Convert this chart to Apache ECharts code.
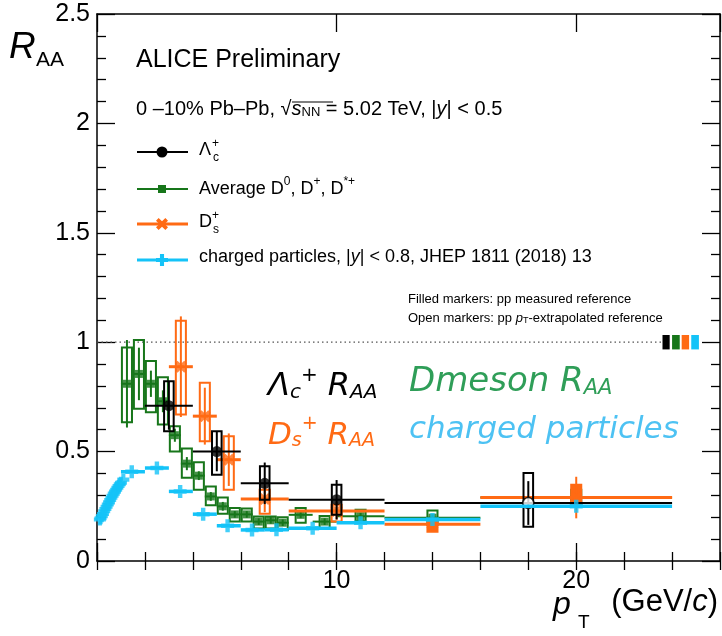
<!DOCTYPE html>
<html>
<head>
<meta charset="utf-8">
<script src="https://cdn.jsdelivr.net/npm/echarts@6/dist/echarts.min.js"></script>
<style>
html,body{margin:0;padding:0;background:#fff}
#c{width:722px;height:636px}
</style>
</head>
<body>
<div id="c"></div>
<script>
// ---------- Λc+ RAA, 0-10% Pb-Pb ----------
const lcBinLo = [2, 4, 6, 8, 12];
const lcBinHi = [4, 6, 8, 12, 24];
const lcPt    = [3, 5, 7, 10, 18];
const lcRaa   = [0.71, 0.50, 0.355, 0.28, 0.265];
const lcStat  = [0.11, 0.09, 0.095, 0.09, 0.10];
const lcSysLo = [0.593, 0.394, 0.28, 0.211, 0.157];
const lcSysHi = [0.822, 0.593, 0.433, 0.349, 0.402];
const lcOpen  = [false, false, false, false, true];

// ---------- average D0, D+, D*+ ----------
const dBinLo = [1, 1.5, 2, 2.5, 3, 3.5, 4, 4.5, 5, 5.5, 6, 6.5, 7, 7.5, 8, 9, 10, 12, 16];
const dBinHi = [1.5, 2, 2.5, 3, 3.5, 4, 4.5, 5, 5.5, 6, 6.5, 7, 7.5, 8, 9, 10, 12, 16, 24];
const dPt    = [1.25, 1.75, 2.25, 2.75, 3.25, 3.75, 4.25, 4.75, 5.25, 5.75, 6.25, 6.75, 7.25, 7.75, 8.5, 9.5, 11, 14, 20];
const dRaa   = [0.81, 0.855, 0.81, 0.73, 0.575, 0.445, 0.39, 0.295, 0.25, 0.213, 0.213, 0.18, 0.186, 0.175, 0.211, 0.18, 0.205, 0.198, 0.29];
const dStat  = [0.2, 0.12, 0.06, 0.05, 0.03, 0.03, 0.02, 0.02, 0.02, 0.015, 0.015, 0.015, 0.015, 0.015, 0.015, 0.015, 0.015, 0.015, 0.03];
const dSysLo = [0.634, 0.696, 0.68, 0.624, 0.5, 0.38, 0.326, 0.255, 0.216, 0.18, 0.18, 0.148, 0.148, 0.142, 0.175, 0.15, 0.183, 0.165, 0.255];
const dSysHi = [0.976, 1.01, 0.914, 0.84, 0.616, 0.514, 0.451, 0.341, 0.29, 0.242, 0.24, 0.203, 0.203, 0.2, 0.242, 0.206, 0.234, 0.231, 0.326];

// ---------- Ds+ ----------
const dsBinLo = [3, 4, 5, 6, 8, 12, 16];
const dsBinHi = [4, 5, 6, 8, 12, 16, 24];
const dsPt    = [3.5, 4.5, 5.5, 7, 10, 14, 20];
const dsRaa   = [0.888, 0.662, 0.463, 0.283, 0.229, 0.168, 0.29];
const dsStat  = [0.23, 0.13, 0.12, 0.06, 0.04, 0.03, 0.095];
const dsSysLo = [0.67, 0.547, 0.326, 0.216, 0.18, 0.134, 0.258];
const dsSysHi = [1.098, 0.815, 0.57, 0.326, 0.257, 0.188, 0.349];
const dsFilled = [false, false, false, false, false, true, true];

// ---------- charged particles, |y| < 0.8 ----------
const chLowPt  = [0.12, 0.15, 0.2, 0.25, 0.3, 0.35, 0.4, 0.45, 0.5, 0.55, 0.6, 0.65, 0.7, 0.75, 0.8, 0.85, 0.9, 0.95, 1.0, 1.1];
const chLowRaa = [0.19, 0.195, 0.205, 0.215, 0.227, 0.238, 0.248, 0.258, 0.268, 0.279, 0.289, 0.298, 0.308, 0.317, 0.326, 0.335, 0.343, 0.351, 0.358, 0.372];
const chBinLo = [1, 2, 3, 4, 5, 6, 7, 8, 10, 12, 16];
const chBinHi = [2, 3, 4, 5, 6, 7, 8, 10, 12, 16, 24];
const chPt    = [1.45, 2.5, 3.47, 4.43, 5.45, 6.47, 7.49, 9, 11, 14, 20];
const chRaa   = [0.408, 0.425, 0.318, 0.214, 0.161, 0.142, 0.143, 0.15, 0.175, 0.19, 0.25];

// ---------- global normalisation uncertainties at RAA = 1 ----------
const normPtLo = [23.6, 24.0, 24.4, 24.8];
const normPtHi = [23.9, 24.32, 24.71, 25.12];
const normHalf = [0.033, 0.033, 0.033, 0.033];

// ---------- axes ----------
const xMin = 0, xMax = 26, xMajor = 10, xMinor = 2;
const yMin = 0, yMax = 2.5, yMajor = 0.5;
const xTickLabels = ['10', '20'];
const unityPt = [0, 23.55];

const FONT = '"Liberation Sans", Arial, Helvetica, sans-serif';
const HAND = '"DejaVu Sans", "Noto Sans", sans-serif';
const BLACK = '#000000', GREEN = '#17761a', ORANGE = '#ff6a14', CYAN = '#14c3f8';

function rows(pt, val, lo, hi, statLo, statHi, sysLo, sysHi, fill) {
  return pt.map((p, i) => [p, val[i], lo[i], hi[i], statLo[i], statHi[i],
    sysLo ? sysLo[i] : val[i], sysHi ? sysHi[i] : val[i], fill && fill[i] ? 1 : 0]);
}

// error bars (bin width + statistical) and systematic boxes
function errSeries(data, color, opts) {
  return {
    type: 'custom', z: opts.z, silent: true, animation: false,
    data: data,
    renderItem: function (params, api) {
      const pt = api.value(0), v = api.value(1);
      const c = api.coord([pt, v]);
      const l = api.coord([api.value(2), v]);
      const r = api.coord([api.value(3), v]);
      const sb = api.coord([pt, api.value(4)]);
      const st = api.coord([pt, api.value(5)]);
      const yb = api.coord([pt, api.value(6)])[1];
      const yt = api.coord([pt, api.value(7)])[1];
      const hw = Math.abs(api.coord([pt + opts.boxHalf, v])[0] - c[0]);
      const ch = [];
      if (Math.abs(yb - yt) > 0.5) {
        const filled = api.value(8) === 1;
        ch.push({
          type: 'rect', z2: 1,
          shape: { x: c[0] - hw, y: yt, width: hw * 2, height: yb - yt },
          style: { fill: filled ? color : 'rgba(255,255,255,0)', stroke: color, lineWidth: opts.boxLw }
        });
      }
      ch.push({ type: 'line', z2: 2, shape: { x1: l[0], y1: c[1], x2: r[0], y2: c[1] },
        style: { stroke: color, lineWidth: opts.hLw } });
      ch.push({ type: 'line', z2: 2, shape: { x1: c[0], y1: sb[1], x2: c[0], y2: st[1] },
        style: { stroke: color, lineWidth: opts.vLw } });
      return { type: 'group', children: ch };
    }
  };
}

const lcRows = rows(lcPt, lcRaa, lcBinLo, lcBinHi,
  lcRaa.map((v, i) => v - lcStat[i]), lcRaa.map((v, i) => v + lcStat[i]), lcSysLo, lcSysHi, null);
const dRows = rows(dPt, dRaa, dBinLo, dBinHi,
  dRaa.map((v, i) => v - dStat[i]), dRaa.map((v, i) => v + dStat[i]), dSysLo, dSysHi, null);
const dsRows = rows(dsPt, dsRaa, dsBinLo, dsBinHi,
  dsRaa.map((v, i) => v - dsStat[i]), dsRaa.map((v, i) => v + dsStat[i]), dsSysLo, dsSysHi, dsFilled);
const chRows = rows(chPt, chRaa, chBinLo, chBinHi, chRaa, chRaa, null, null, null);

const X_PATH = 'path://M0,2.2 L2.2,0 L5,2.8 L7.8,0 L10,2.2 L7.2,5 L10,7.8 L7.8,10 L5,7.2 L2.2,10 L0,7.8 L2.8,5 Z';
const PLUS_PATH = 'path://M3.3,0 H6.7 V3.3 H10 V6.7 H6.7 V10 H3.3 V6.7 H0 V3.3 H3.3 Z';

const series = [
  // dotted line at unity
  {
    type: 'custom', z: 1, silent: true, animation: false,
    data: [[unityPt[0], 1, unityPt[1]]],
    renderItem: function (p, api) {
      const a = api.coord([api.value(0), api.value(1)]);
      const b = api.coord([api.value(2), api.value(1)]);
      return { type: 'line', shape: { x1: a[0], y1: a[1], x2: b[0], y2: b[1] },
        style: { stroke: '#555', lineWidth: 1.2, lineDash: [1.5, 3] } };
    }
  },
  // normalisation boxes
  {
    type: 'custom', z: 1, silent: true, animation: false,
    data: normPtLo.map((lo, i) => [lo, normPtHi[i], 1 - normHalf[i], 1 + normHalf[i], i]),
    renderItem: function (p, api) {
      const a = api.coord([api.value(0), api.value(3)]);
      const b = api.coord([api.value(1), api.value(2)]);
      const cols = [BLACK, GREEN, ORANGE, CYAN];
      return { type: 'rect', shape: { x: a[0], y: a[1], width: b[0] - a[0], height: b[1] - a[1] },
        style: { fill: cols[api.value(4)] } };
    }
  },
  errSeries(dRows, GREEN, { z: 2, boxHalf: 0.21, boxLw: 2, hLw: 2, vLw: 2 }),
  {
    type: 'scatter', z: 3, silent: true, animation: false,
    symbol: 'rect', symbolSize: 8, itemStyle: { color: GREEN },
    data: dPt.map((p, i) => [p, dRaa[i]])
  },
  errSeries(dsRows, ORANGE, { z: 4, boxHalf: 0.21, boxLw: 2, hLw: 3, vLw: 2 }),
  {
    type: 'scatter', z: 5, silent: true, animation: false,
    symbol: X_PATH, symbolSize: 12, itemStyle: { color: ORANGE },
    data: dsPt.map((p, i) => [p, dsRaa[i]])
  },
  errSeries(lcRows, BLACK, { z: 6, boxHalf: 0.2, boxLw: 2, hLw: 2, vLw: 2 }),
  {
    type: 'scatter', z: 7, silent: true, animation: false,
    symbol: 'circle', symbolSize: 11,
    data: lcPt.map((p, i) => ({
      value: [p, lcRaa[i]],
      itemStyle: lcOpen[i] ? { color: '#fff', borderColor: BLACK, borderWidth: 1.5 } : { color: BLACK }
    }))
  },
  errSeries(chRows, CYAN, { z: 8, boxHalf: 0.2, boxLw: 2, hLw: 3.5, vLw: 3 }),
  {
    type: 'scatter', z: 9, silent: true, animation: false,
    symbol: PLUS_PATH, symbolSize: 13, itemStyle: { color: CYAN },
    data: chPt.map((p, i) => [p, chRaa[i]])
  },
  {
    type: 'scatter', z: 9, silent: true, animation: false,
    symbol: PLUS_PATH, symbolSize: 12, itemStyle: { color: CYAN },
    data: chLowPt.map((p, i) => [p, chLowRaa[i]])
  }
];

const axLine = { show: true, onZero: false, lineStyle: { color: '#000', width: 1.5 } };
const tickMaj = { show: true, inside: true, length: 18, lineStyle: { color: '#000', width: 1.3 } };
const tickMin = { show: true, inside: true, length: 9, lineStyle: { color: '#000', width: 1.3 } };
const noLabel = { show: false };
const noSplit = { show: false };

const xAxes = [
  { type: 'value', min: xMin, max: xMax, interval: xMajor, position: 'bottom', axisLine: axLine, axisTick: tickMaj,
    axisLabel: { fontSize: 25, color: '#000', fontFamily: FONT, margin: 8, showMaxLabel: false,
      formatter: v => xTickLabels.indexOf(String(v)) >= 0 ? String(v) : '' }, splitLine: noSplit },
  { type: 'value', min: xMin, max: xMax, interval: xMinor, position: 'bottom', axisLine: { show: false }, axisTick: tickMin,
    axisLabel: noLabel, splitLine: noSplit },
  { type: 'value', min: xMin, max: xMax, interval: xMajor, position: 'top', axisLine: axLine, axisTick: tickMaj,
    axisLabel: noLabel, splitLine: noSplit },
  { type: 'value', min: xMin, max: xMax, interval: xMinor, position: 'top', axisLine: { show: false }, axisTick: tickMin,
    axisLabel: noLabel, splitLine: noSplit }
];
const yAxes = [
  { type: 'value', min: yMin, max: yMax, interval: yMajor, position: 'left', axisLine: axLine, axisTick: tickMaj,
    minorTick: { show: true, splitNumber: 5, length: 9, lineStyle: { color: '#000', width: 1.3 } },
    axisLabel: { fontSize: 25, color: '#000', fontFamily: FONT, margin: 7 }, splitLine: noSplit, minorSplitLine: noSplit },
  { type: 'value', min: yMin, max: yMax, interval: yMajor, position: 'right', axisLine: axLine, axisTick: tickMaj,
    minorTick: { show: true, splitNumber: 5, length: 9, lineStyle: { color: '#000', width: 1.3 } },
    axisLabel: noLabel, splitLine: noSplit, minorSplitLine: noSplit }
];

const legendRich = {
  n: { fontSize: 18, fontFamily: FONT, fill: '#000', lineHeight: 22, verticalAlign: 'bottom' },
  i: { fontSize: 18, fontFamily: FONT, fill: '#000', fontStyle: 'italic', lineHeight: 22, verticalAlign: 'bottom' },
  sup: { fontSize: 12, fontFamily: FONT, fill: '#000', lineHeight: 12, verticalAlign: 'top' },
  sub: { fontSize: 12, fontFamily: FONT, fill: '#000', lineHeight: 12, verticalAlign: 'bottom' }
};

const legendRowsY = [152, 189, 224, 260];
const legendCols = [BLACK, GREEN, ORANGE, CYAN];
const graphics = [];
legendRowsY.forEach((y, k) => {
  graphics.push({ type: 'line', z: 20, silent: true, shape: { x1: 137, y1: y, x2: 188, y2: y },
    style: { stroke: legendCols[k], lineWidth: k === 0 || k === 1 ? 2 : 3 } });
});
graphics.push({ type: 'circle', z: 21, silent: true, shape: { cx: 162, cy: legendRowsY[0], r: 5.5 }, style: { fill: BLACK } });
graphics.push({ type: 'rect', z: 21, silent: true, shape: { x: 158, y: legendRowsY[1] - 4, width: 8, height: 8 }, style: { fill: GREEN } });
graphics.push({ type: 'polygon', z: 21, silent: true,
  shape: { points: [[0, 2.2], [2.2, 0], [5, 2.8], [7.8, 0], [10, 2.2], [7.2, 5], [10, 7.8], [7.8, 10], [5, 7.2], [2.2, 10], [0, 7.8], [2.8, 5]].map(p => [156 + p[0] * 1.2, legendRowsY[2] - 6 + p[1] * 1.2]) },
  style: { fill: ORANGE } });
graphics.push({ type: 'polygon', z: 21, silent: true,
  shape: { points: [[3.3, 0], [6.7, 0], [6.7, 3.3], [10, 3.3], [10, 6.7], [6.7, 6.7], [6.7, 10], [3.3, 10], [3.3, 6.7], [0, 6.7], [0, 3.3], [3.3, 3.3]].map(p => [156 + p[0] * 1.2, legendRowsY[3] - 6 + p[1] * 1.2]) },
  style: { fill: CYAN } });

// legend labels
graphics.push({ type: 'text', z: 20, silent: true, left: 199, top: legendRowsY[0] - 11,
  style: { text: 'Λ', font: '18px ' + FONT, fill: '#000' } });
graphics.push({ type: 'text', z: 20, silent: true, left: 212, top: legendRowsY[0] - 14,
  style: { text: '+', font: '12px ' + FONT, fill: '#000' } });
graphics.push({ type: 'text', z: 20, silent: true, left: 213, top: legendRowsY[0] + 0,
  style: { text: 'c', font: '12px ' + FONT, fill: '#000' } });

graphics.push({ type: 'text', z: 20, silent: true, left: 199, top: legendRowsY[1] - 13,
  style: { text: '{n|Average D}{sup|0}{n|, D}{sup|+}{n|, D}{sup|*+}', rich: legendRich } });

graphics.push({ type: 'text', z: 20, silent: true, left: 199, top: legendRowsY[2] - 11,
  style: { text: 'D', font: '18px ' + FONT, fill: '#000' } });
graphics.push({ type: 'text', z: 20, silent: true, left: 212, top: legendRowsY[2] - 14,
  style: { text: '+', font: '12px ' + FONT, fill: '#000' } });
graphics.push({ type: 'text', z: 20, silent: true, left: 213, top: legendRowsY[2] + 0,
  style: { text: 's', font: '12px ' + FONT, fill: '#000' } });

graphics.push({ type: 'text', z: 20, silent: true, left: 199, top: legendRowsY[3] - 12,
  style: { text: '{n|charged particles, |}{i|y}{n|| < 0.8, JHEP 1811 (2018) 13}', rich: legendRich } });

// header texts
graphics.push({ type: 'text', z: 20, silent: true, left: 136, top: 48,
  style: { text: 'ALICE Preliminary', font: '25px ' + FONT, fill: '#000' } });
graphics.push({ type: 'text', z: 20, silent: true, left: 136, top: 99,
  style: { text: '{n|0 –10% Pb–Pb, √}{i|s}{sub|NN}{n| = 5.02 TeV, |}{i|y}{n|| < 0.5}',
    rich: {
      n: { fontSize: 20, fontFamily: FONT, fill: '#000', lineHeight: 26, verticalAlign: 'bottom' },
      i: { fontSize: 20, fontFamily: FONT, fill: '#000', fontStyle: 'italic', lineHeight: 26, verticalAlign: 'bottom' },
      sub: { fontSize: 13, fontFamily: FONT, fill: '#000', lineHeight: 13, verticalAlign: 'bottom' }
    } } });
graphics.push({ type: 'line', z: 20, silent: true, shape: { x1: 292, y1: 102, x2: 333, y2: 102 },
  style: { stroke: '#000', lineWidth: 1.2 } });

graphics.push({ type: 'text', z: 20, silent: true, left: 408, top: 293,
  style: { text: 'Filled markers: pp measured reference', font: '13px ' + FONT, fill: '#000' } });
graphics.push({ type: 'text', z: 20, silent: true, left: 408, top: 312,
  style: { text: '{n|Open markers: pp }{i|p}{s|T}{n|-extrapolated reference}',
    rich: {
      n: { fontSize: 13, fontFamily: FONT, fill: '#000', lineHeight: 17, verticalAlign: 'bottom' },
      i: { fontSize: 13, fontFamily: FONT, fill: '#000', fontStyle: 'italic', lineHeight: 17, verticalAlign: 'bottom' },
      s: { fontSize: 9, fontFamily: FONT, fill: '#000', lineHeight: 9, verticalAlign: 'bottom' }
    } } });

// axis titles
graphics.push({ type: 'text', z: 20, silent: true, left: 9, top: 29,
  style: { text: 'R', font: 'italic 37px ' + FONT, fill: '#000' } });
graphics.push({ type: 'text', z: 20, silent: true, left: 36, top: 50,
  style: { text: 'AA', font: '21px ' + FONT, fill: '#000' } });
graphics.push({ type: 'text', z: 20, silent: true, left: 553, top: 589,
  style: { text: 'p', font: 'italic 32px ' + FONT, fill: '#000' } });
graphics.push({ type: 'text', z: 20, silent: true, left: 578, top: 613,
  style: { text: 'T', font: '19px ' + FONT, fill: '#000' } });
graphics.push({ type: 'text', z: 20, silent: true, right: 4, top: 587,
  style: { text: '{n|(GeV/}{i|c}{n|)}', rich: {
    n: { fontSize: 31, fontFamily: FONT, fill: '#000' },
    i: { fontSize: 31, fontFamily: FONT, fill: '#000', fontStyle: 'italic' } } } });

// hand-written annotations
const handRich = (col, size) => ({
  n: { fontSize: size, fontFamily: HAND, fontStyle: 'italic', fill: col, lineHeight: size + 5, verticalAlign: 'bottom' },
  sup: { fontSize: Math.round(size * 0.62), fontFamily: HAND, fontStyle: 'italic', fill: col, lineHeight: Math.round(size * 0.62), verticalAlign: 'top' },
  sub: { fontSize: Math.round(size * 0.62), fontFamily: HAND, fontStyle: 'italic', fill: col, lineHeight: Math.round(size * 0.62), verticalAlign: 'bottom' }
});
graphics.push({ type: 'text', z: 20, silent: true, left: 268, top: 366,
  style: { text: '{n|Λ}{sub|c}{sup|+}{n| R}{sub|AA}', rich: handRich('#000', 32) } });
graphics.push({ type: 'text', z: 20, silent: true, left: 409, top: 365,
  style: { text: '{n|Dmeson R}{sub|AA}', rich: handRich('#2f9e58', 34) } });
graphics.push({ type: 'text', z: 20, silent: true, left: 268, top: 415,
  style: { text: '{n|D}{sub|s}{sup|+}{n| R}{sub|AA}', rich: handRich(ORANGE, 31) } });
graphics.push({ type: 'text', z: 20, silent: true, left: 409, top: 414,
  style: { text: '{n|charged particles}', rich: handRich('#4dc2f3', 31) } });

const chart = echarts.init(document.getElementById('c'), null, { renderer: 'canvas' });
chart.setOption({
  animation: false,
  backgroundColor: '#fff',
  grid: { left: 97, right: 2, top: 14, bottom: 75, containLabel: false },
  xAxis: xAxes,
  yAxis: yAxes,
  series: series,
  graphic: graphics
});
</script>
</body>
</html>
